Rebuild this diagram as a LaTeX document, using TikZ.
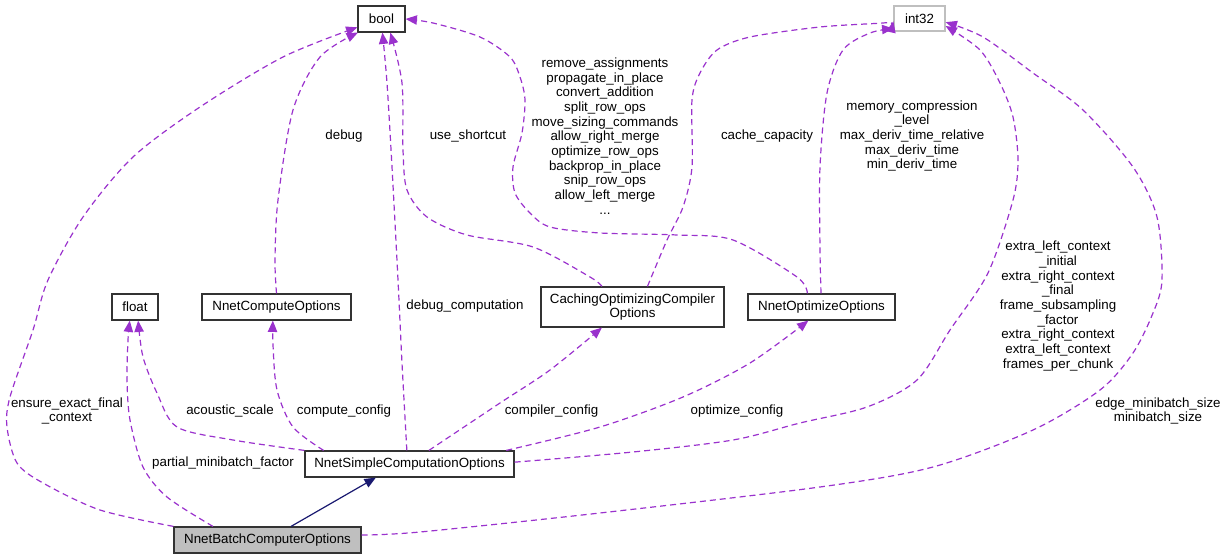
\documentclass[tikz,border=0pt]{standalone}
\usepackage{fontspec}
\setmainfont{Liberation Sans}
\usetikzlibrary{arrows.meta}
\definecolor{edgecol}{HTML}{9A32CD}
\definecolor{navy}{HTML}{191970}
\definecolor{grayfill}{HTML}{BFBFBF}
\begin{document}
\begin{tikzpicture}[x=0.75pt,y=-0.75pt,
  every node/.style={font=\fontsize{10}{11}\selectfont},
  box/.style={draw=black!80,line width=0.9pt,inner sep=0pt,align=center,fill=white},
  lbl/.style={align=center,inner sep=0pt},
  edge/.style={draw=edgecol,line width=0.9pt,dash pattern=on 4.5pt off 3pt,
    -{Triangle[length=8.5pt,width=7pt,fill=edgecol]}},
  inherit/.style={draw=navy,line width=0.9pt,
    -{Triangle[length=8.5pt,width=7pt,fill=navy]}}]
\useasboundingbox (0,0) rectangle (1225,559);
% nodes
\node[box,minimum width=35.25pt,minimum height=19.5pt] (bool) at (381.5,19) {bool};
\node[box,draw=grayfill,minimum width=38.25pt,minimum height=18.75pt] (int32) at (919.5,18.5) {int32};
\node[box,minimum width=34.5pt,minimum height=19.5pt] (float) at (135,307) {float};
\node[box,minimum width=111.75pt,minimum height=19.5pt] (compute) at (276.5,307) {NnetComputeOptions};
\node[box,minimum width=137.25pt,minimum height=30pt] (caching) at (632.5,307) {CachingOptimizingCompiler\\Options};
\node[box,minimum width=110.25pt,minimum height=19.5pt] (optimize) at (821.5,307) {NnetOptimizeOptions};
\node[box,minimum width=156.75pt,minimum height=19.5pt] (simple) at (409.5,464) {NnetSimpleComputationOptions};
\node[box,fill=grayfill,minimum width=140.25pt,minimum height=19.5pt] (batch) at (267.5,540) {NnetBatchComputerOptions};
% edges
\draw[edge] plot[smooth] coordinates {(batch.north west) (100,510) (43,483) (17,463) (7,427) (10,397) (33,330) (48,280) (83,217) (133,157) (200,107) (283,57) (bool.199)};
\draw[edge] plot[smooth] coordinates {(batch.166) (167,497) (143,467) (130,420) (127,380) (128,340) (float.249)};
\draw[edge] plot[smooth] coordinates {(simple.north west) (233,440) (177,427) (157,393) (143,357) (float.283)};
\draw[edge] plot[smooth] coordinates {(simple.171) (293,427) (277,390) (273,345) (compute.255)};
\draw[edge] plot[smooth] coordinates {(compute.north) (275,260) (278,200) (293,110) (320,57) (bool.210)};
\draw[edge] plot[smooth] coordinates {(simple.101) (402,363) (398,280) (392,167) (387,83) (bool.274)};
\draw[edge] plot[smooth] coordinates {(caching.146) (590,277) (533,247) (467,235) (427,217) (407,190) (403,150) (402,83) (bool.303)};
\draw[edge] plot[smooth] coordinates {(optimize.136) (797,277) (733,240) (677,235) (600,233) (550,227) (530,213) (515,193) (513,167) (522,133) (525,100) (520,77) (510,57) (480,37) (433,23) (bool.east)};
\draw[edge] plot[smooth] coordinates {(caching.54) (667,240) (683,207) (692,167) (692,100) (700,73) (717,50) (750,37) (820,27) (883,23) (int32.186)};
\draw[edge] plot[smooth] coordinates {(optimize.92) (820,250) (820,167) (827,93) (843,50) (870,33) (int32.201)};
\draw[edge] plot[smooth] coordinates {(simple.1) (633,452) (733,440) (800,423) (867,407) (917,380) (950,330) (988,273) (1013,200) (1018,160) (1013,117) (1000,83) (980,50) (int32.344)};
\draw[edge] plot[smooth] coordinates {(batch.3) (420,532) (600,513) (820,487) (933,467) (1033,430) (1100,390) (1133,353) (1153,313) (1162,280) (1157,217) (1133,167) (1083,110) (1033,73) (983,37) (int32.352)};
\draw[edge] plot[smooth] coordinates {(simple.35) (500,403) (550,370) (caching.214)};
\draw[edge] plot[smooth] coordinates {(simple.8.5) (600,427) (683,397) (750,363) (optimize.226)};
\draw[inherit] (batch.30) -- (simple.202);
% labels
\node[lbl] (l1) at (67,411) {ensure\_exact\_final\\\_context};
\node[lbl] (l2) at (223,463) {partial\_minibatch\_factor};
\node[lbl] (l3) at (230,411) {acoustic\_scale};
\node[lbl] (l4) at (344,411) {compute\_config};
\node[lbl] (l5) at (344,136) {debug};
\node[lbl] (l6) at (465,306) {debug\_computation};
\node[lbl] (l7) at (468,136) {use\_shortcut};
\node[lbl] (l8) at (605,136) {remove\_assignments\\propagate\_in\_place\\convert\_addition\\split\_row\_ops\\move\_sizing\_commands\\allow\_right\_merge\\optimize\_row\_ops\\backprop\_in\_place\\snip\_row\_ops\\allow\_left\_merge\\...};
\node[lbl] (l9) at (767,136) {cache\_capacity};
\node[lbl] (l10) at (912,136) {memory\_compression\\\_level\\max\_deriv\_time\_relative\\max\_deriv\_time\\min\_deriv\_time};
\node[lbl] (l11) at (551.5,411) {compiler\_config};
\node[lbl] (l12) at (737,411) {optimize\_config};
\node[lbl] (l13) at (1058,306) {extra\_left\_context\\\_initial\\extra\_right\_context\\\_final\\frame\_subsampling\\\_factor\\extra\_right\_context\\extra\_left\_context\\frames\_per\_chunk};
\node[lbl] (l14) at (1158,411) {edge\_minibatch\_size\\minibatch\_size};
\end{tikzpicture}
\end{document}
